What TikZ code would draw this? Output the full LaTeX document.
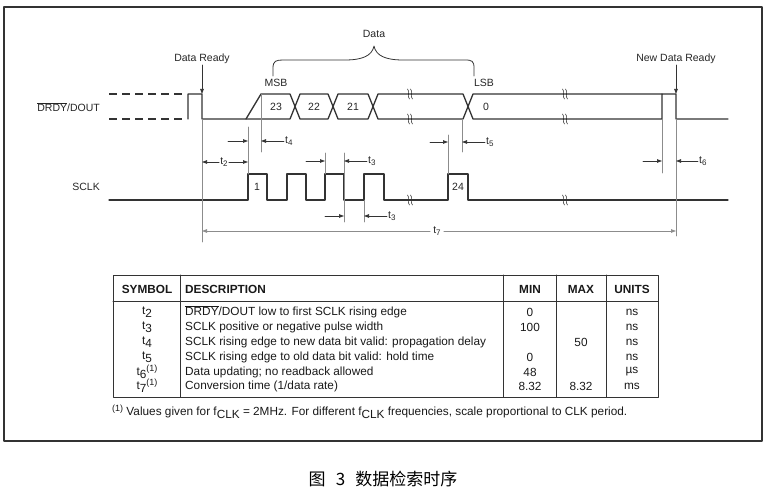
\documentclass[tikz,border=0pt]{standalone}
\usepackage{fontspec}
\setmainfont{Liberation Sans}
\newfontfamily\cjk{Noto Sans CJK SC}
\usepackage{xcolor}
\usetikzlibrary{arrows.meta}
\definecolor{wavegray}{gray}{0.2}
\definecolor{guidegray}{gray}{0.55}
\newcommand{\tlab}[1]{t\raisebox{-0.45ex}{\footnotesize #1}}
\newcommand{\tsym}[1]{t\raisebox{-0.5ex}{#1}}
\newcommand{\tnote}[1]{t\raisebox{-0.5ex}{#1}\raisebox{0.6ex}{\small(1)}}
\tikzset{brk/.pic={
    \draw[line width=0.6pt, wavegray] (-2.5,-5) .. controls (0.5,-2) and (-3.5,2) .. (-0.5,5);
    \draw[line width=0.6pt, wavegray] (0.5,-5) .. controls (3.5,-2) and (-0.5,2) .. (2.5,5);}}

\begin{document}
\begin{tikzpicture}[x=1pt, y=-1pt, line join=round, line cap=round,
    wave/.style={wavegray, line width=1.3pt},
    guide/.style={guidegray, line width=0.7pt},
    dim/.style={wavegray, line width=0.7pt, -{Triangle[length=5pt,width=3.5pt]}},
    lbl/.style={font=\fontsize{10.5}{12}\selectfont, inner sep=1pt, text=black!85},
    tbl/.style={font=\fontsize{11.8}{13}\selectfont, inner sep=0pt, text=black!90},
    hdr/.style={font=\fontsize{11.8}{13}\selectfont\bfseries, inner sep=0pt, text=black!90}]

    \useasboundingbox (0,0) rectangle (766,492);
    \draw[wavegray, line width=1.2pt] (4,7) rectangle (762,441);

    % signal-names
    \node[lbl, anchor=east] (drdyname) at (101,107) {$\overline{\mbox{DRDY}}$/DOUT};
    \node[lbl, anchor=east] (sclkname) at (101,187) {SCLK};

    % DRDY-DOUT
    \coordinate (dr) at (202,94);
    \coordinate (msb) at (261,94);
    \coordinate (lsb) at (462,119);
    \coordinate (ndr) at (676,94);
    \coordinate (upd) at (662,119);
    \draw[wave, dash pattern=on 8pt off 5pt, line cap=butt] (109,94) -- (186,94);
    \draw[wave, dash pattern=on 8pt off 5pt, line cap=butt] (109,119) -- (186,119);
    \draw[wave] (188,119) -- (188,94) -- (dr) -- (202,119) -- (290,119) -- (300,94)
        -- (328,94) -- (338,119) -- (368,119) -- (378,94) -- (463,94) -- (473,119)
        -- (upd) -- (662,94) -- (ndr) -- (676,119) -- (728,119);
    \draw[wave] (246,119) -- (msb) -- (290,94) -- (300,119) -- (328,119) -- (338,94)
        -- (368,94) -- (378,119) -- (463,119) -- (473,94) -- (662,94);
    \pic at (410,94) {brk};
    \pic at (410,119) {brk};
    \pic at (565,94) {brk};
    \pic at (565,119) {brk};

    \node[lbl] (b23) at (276,107) {23};
    \node[lbl] (b22) at (314,107) {22};
    \node[lbl] (b21) at (353,107) {21};
    \node[lbl] (b0) at (486,107) {0};
    \node[lbl] (msblbl) at (276,83) {MSB};
    \node[lbl] (lsblbl) at (484,83) {LSB};

    % data-brace
    \node[lbl] (datalbl) at (374,34) {Data};
    \draw[wavegray, line width=0.8pt] (273,76) -- (273,68) .. controls (273,61) and (276,60) .. (283,60)
        -- (345,60) .. controls (362,60) and (372,56) .. (374,46)
        .. controls (376,56) and (386,60) .. (403,60) -- (465,60)
        .. controls (472,60) and (474,61) .. (474,68) -- (474,76);

    % ready-arrows
    \node[lbl] (readylbl) at (202,59) {Data Ready};
    \node[lbl] (newlbl) at (676,59) {New Data Ready};
    \draw[dim] (readylbl.south) -- (dr);
    \draw[dim] (newlbl.south) -- (ndr);

    % SCLK
    \draw[wave] (109,200) -- (248,200) -- (248,174) -- (267,174) -- (267,200)
        -- (287,200) -- (287,174) -- (306,174) -- (306,200)
        -- (325,200) -- (325,174) -- (344,174) -- (344,200)
        -- (364,200) -- (364,174) -- (384,174) -- (384,200)
        -- (448,200) -- (448,174) -- (468,174) -- (468,200) -- (728,200);
    \pic at (410,200) {brk};
    \pic at (565,200) {brk};
    \node[lbl] (p1) at (257,187) {1};
    \node[lbl] (p24) at (458,187) {24};

    % guide-lines
    \draw[guide] (202,119) -- (202,242);
    \draw[guide] (msb) -- (261,152);
    \draw[guide] (248,127) -- (248,174);
    \draw[guide] (325,153) -- (325,174);
    \draw[guide] (344,153) -- (344,222);
    \draw[guide] (364,200) -- (364,222);
    \draw[guide] (448,135) -- (448,174);
    \draw[guide] (lsb) -- (462,152);
    \draw[guide] (upd) -- (662,173);
    \draw[guide] (676,119) -- (676,236);

    % timing-labels
    \node[lbl] (t2) at (224,162) {\tlab{2}};
    \draw[dim] (t2.west) -- (202,162);
    \draw[dim] (t2.east) -- (248,162);
    \node[lbl, anchor=west] (t4) at (284,141) {\tlab{4}};
    \draw[dim] (228,141) -- (248,141);
    \draw[dim] (t4.west) -- (261,141);
    \node[lbl, anchor=west] (t3a) at (367,161) {\tlab{3}};
    \draw[dim] (306,161) -- (325,161);
    \draw[dim] (t3a.west) -- (344,161);
    \node[lbl, anchor=west] (t3b) at (387,216) {\tlab{3}};
    \draw[dim] (325,216) -- (344,216);
    \draw[dim] (t3b.west) -- (364,216);
    \node[lbl, anchor=west] (t5) at (485,142) {\tlab{5}};
    \draw[dim] (430,142) -- (448,142);
    \draw[dim] (t5.west) -- (462,142);
    \node[lbl, anchor=west] (t6) at (698,161) {\tlab{6}};
    \draw[dim] (643,161) -- (662,161);
    \draw[dim] (t6.west) -- (676,161);
    \node[lbl, inner sep=3pt] (t7) at (437,231) {\tlab{7}};
    \draw[dim, guidegray] (t7.west) -- (202,231);
    \draw[dim, guidegray] (t7.east) -- (676,231);

    % table
    \draw[wavegray, line width=1pt] (113,275) rectangle (658,397);
    \draw[wavegray, line width=1pt] (113,301) -- (658,301);
    \draw[wavegray, line width=1pt] (180,275) -- (180,397);
    \draw[wavegray, line width=1pt] (503,275) -- (503,397);
    \draw[wavegray, line width=1pt] (556,275) -- (556,397);
    \draw[wavegray, line width=1pt] (606,275) -- (606,397);

    \node[hdr] (hsym) at (147,289) {SYMBOL};
    \node[hdr, anchor=west] (hdesc) at (185,289) {DESCRIPTION};
    \node[hdr] (hmin) at (530,289) {MIN};
    \node[hdr] (hmax) at (581,289) {MAX};
    \node[hdr] (hunit) at (632,289) {UNITS};

    \node[tbl] (s2) at (147,312) {\tsym{2}};
    \node[tbl] (s3) at (147,327) {\tsym{3}};
    \node[tbl] (s4) at (147,342) {\tsym{4}};
    \node[tbl] (s5) at (147,357) {\tsym{5}};
    \node[tbl] (s6) at (147,372) {\tnote{6}};
    \node[tbl] (s7) at (147,386) {\tnote{7}};

    \node[tbl, anchor=west] (d2) at (185,312) {$\overline{\mbox{DRDY}}$/DOUT low to first SCLK rising edge};
    \node[tbl, anchor=west] (d3) at (185,327) {SCLK positive or negative pulse width};
    \node[tbl, anchor=west] (d4) at (185,342) {SCLK rising edge to new data bit valid: propagation delay};
    \node[tbl, anchor=west] (d5) at (185,357) {SCLK rising edge to old data bit valid: hold time};
    \node[tbl, anchor=west] (d6) at (185,372) {Data updating; no readback allowed};
    \node[tbl, anchor=west] (d7) at (185,386) {Conversion time (1/data rate)};

    \node[tbl] (m2) at (530,312) {0};
    \node[tbl] (m3) at (530,327) {100};
    \node[tbl] (m5) at (530,357) {0};
    \node[tbl] (m6) at (530,372) {48};
    \node[tbl] (m7) at (530,386) {8.32};
    \node[tbl] (x4) at (581,342) {50};
    \node[tbl] (x7) at (581,386) {8.32};
    \node[tbl] (u2) at (632,312) {ns};
    \node[tbl] (u3) at (632,327) {ns};
    \node[tbl] (u4) at (632,342) {ns};
    \node[tbl] (u5) at (632,357) {ns};
    \node[tbl] (u6) at (632,372) {µs};
    \node[tbl] (u7) at (632,386) {ms};

    \node[tbl, anchor=west] (fnote) at (112,412) {\raisebox{0.6ex}{\small(1)} Values given for f\raisebox{-0.5ex}{CLK} = 2MHz. For different f\raisebox{-0.5ex}{CLK} frequencies, scale proportional to CLK period.};

    % caption
    \node[font=\cjk\fontsize{17}{19}\selectfont, inner sep=0pt] (caption) at (383,479) {图\hspace{0.6em}3\hspace{0.6em}数据检索时序};

\end{tikzpicture}
\end{document}
